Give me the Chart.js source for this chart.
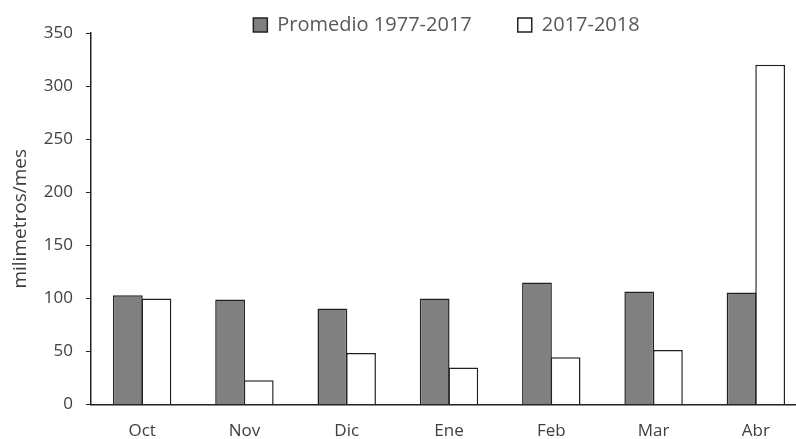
<!DOCTYPE html>
<html>
<head>
<meta charset="utf-8">
<script src="https://cdn.jsdelivr.net/npm/chart.js@4"></script>
<style>
  html, body { margin: 0; padding: 0; background: #fff; overflow: hidden; }
  #wrap { width: 808px; height: 439px; }
</style>
</head>
<body>
<div id="wrap"><canvas id="myChart"></canvas></div>
<script>
// data
var months = ["Oct", "Nov", "Dic", "Ene", "Feb", "Mar", "Abr"];
var promedio = [103, 99, 90.5, 100, 115, 106.5, 105.5];
var temporada = [100, 23, 48.5, 35, 44.5, 51.5, 320];
var yTicks = [0, 50, 100, 150, 200, 250, 300, 350];

// legend: keep the wide gap between items but a short box, and move it over the plot
var legendTweak = {
  id: "legendTweak",
  beforeLayout: function (chart) {
    var lg = chart.legend;
    if (lg && !lg._tweaked) {
      var fit = lg.fit;
      lg.fit = function () {
        fit.call(this);
        this.height = 64;
      };
      var draw = lg.draw;
      lg.draw = function () {
        var c = this.ctx;
        c.save();
        c.translate(43, 0);
        draw.call(this);
        c.restore();
      };
      lg._tweaked = true;
    }
  },
};

var ctx = document.getElementById("myChart");
var myChart = new Chart(ctx, {
  type: "bar",
  data: {
    labels: months,
    datasets: [
      {
        label: "Promedio 1977-2017",
        data: promedio,
        backgroundColor: "#808080",
        borderColor: "#222",
        borderWidth: 1.5,
        borderSkipped: "bottom",
      },
      {
        label: "2017-2018",
        data: temporada,
        backgroundColor: "#ffffff",
        borderColor: "#222",
        borderWidth: 1.5,
        borderSkipped: "bottom",
      },
    ],
  },
  plugins: [legendTweak],
  options: {
    responsive: true,
    maintainAspectRatio: false,
    animation: false,
    layout: { padding: { left: 0, right: 1, top: -31, bottom: -10 } },
    datasets: {
      bar: { categoryPercentage: 0.56, barPercentage: 1.04 },
    },
    plugins: {
      legend: {
        position: "top",
        align: "center",
        labels: {
          boxWidth: 14,
          boxHeight: 14,
          padding: 46,
          color: "#595959",
          font: { family: "Open Sans", size: 20, lineHeight: 1 },
        },
      },
      tooltip: { enabled: false },
    },
    scales: {
      x: {
        grid: { display: false },
        border: { display: true, color: "#222", width: 1.5 },
        ticks: {
          color: "#404040",
          padding: 8,
          font: { family: "Open Sans", size: 17 },
        },
      },
      y: {
        min: 0,
        max: 350,
        afterBuildTicks: function (axis) {
          axis.ticks = yTicks.map(function (v) { return { value: v }; });
        },
        afterFit: function (axis) {
          axis.width = 91;
        },
        grid: {
          display: true,
          drawOnChartArea: false,
          drawTicks: true,
          tickLength: 5,
          color: "#222",
        },
        border: { display: true, color: "#222", width: 1.5 },
        ticks: {
          color: "#404040",
          padding: 13,
          font: { family: "Open Sans", size: 17 },
        },
        title: {
          display: true,
          text: "milimetros/mes",
          color: "#404040",
          padding: { top: 9, bottom: 0 },
          font: { family: "Open Sans", size: 19 },
        },
      },
    },
  },
});
</script>
</body>
</html>
